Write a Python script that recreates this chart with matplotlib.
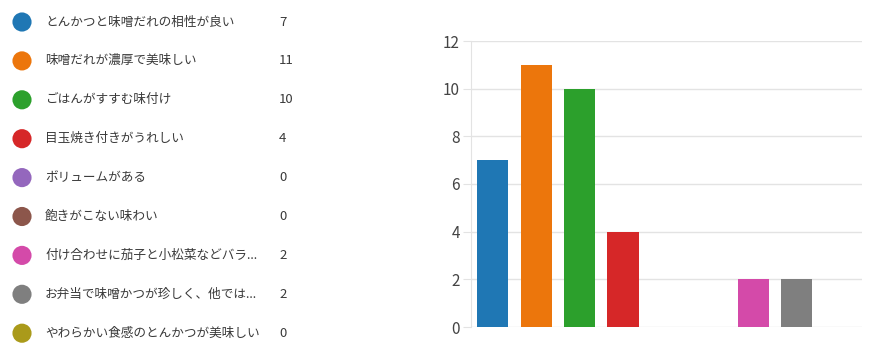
import numpy as np
import matplotlib
matplotlib.use("Agg")
import matplotlib.pyplot as plt

plt.rcParams['font.family'] = ['Noto Sans CJK JP', 'DejaVu Sans']

labels = ['とんかつと味噌だれの相性が良い', '味噌だれが濃厚で美味しい', 'ごはんがすすむ味付け',
          '目玉焼き付きがうれしい', 'ボリュームがある', '飽きがこない味わい',
          '付け合わせに茄子と小松菜などバラ...', 'お弁当で味噌かつが珍しく、他では...',
          'やわらかい食感のとんかつが美味しい']
counts = [7, 11, 10, 4, 0, 0, 2, 2, 0]
colors = ['#1F77B4', '#EC760C', '#2CA02C', '#D62728', '#9467BD', '#8C564B',
          '#D44AA9', '#7F7F7F', '#AA9A1A']
yticks = [0, 2, 4, 6, 8, 10, 12]

fig = plt.figure(figsize=(8.9, 3.51), dpi=100)

# list on the left (pixel coordinates)
axl = fig.add_axes([0, 0, 340 / 890, 1])
axl.set_xlim(0, 340)
axl.set_ylim(351, 0)
axl.axis('off')
row_y = 22 + 38.9 * np.arange(len(labels))
axl.scatter(np.full(len(labels), 22), row_y, s=190, c=colors, linewidths=0)
for y, lab, n in zip(row_y, labels, counts):
    axl.text(45, y, lab, fontsize=9.1, color='#3a3a3a', va='center', ha='left')
    axl.text(279, y, str(n), fontsize=9.5, color='#3a3a3a', va='center', ha='left')

# bar chart
ax = fig.add_axes([471 / 890, 24 / 351, 391 / 890, 286 / 351])
x = np.arange(len(counts))
ax.bar(x, counts, width=0.72, color=colors, zorder=3)
ax.set_xlim(-0.5, len(counts) - 0.5)
ax.set_ylim(0, 12)
ax.set_yticks(yticks)
ax.set_xticks([])
ax.grid(axis='y', color='#E3E3E3', linewidth=1, zorder=0)
for s in ['top', 'right', 'bottom']:
    ax.spines[s].set_visible(False)
ax.spines['left'].set_color('#E3E3E3')
ax.tick_params(axis='y', length=6, color='#E3E3E3', labelsize=11, labelcolor='#444444', pad=2)

fig.savefig('out.png', dpi=100)
